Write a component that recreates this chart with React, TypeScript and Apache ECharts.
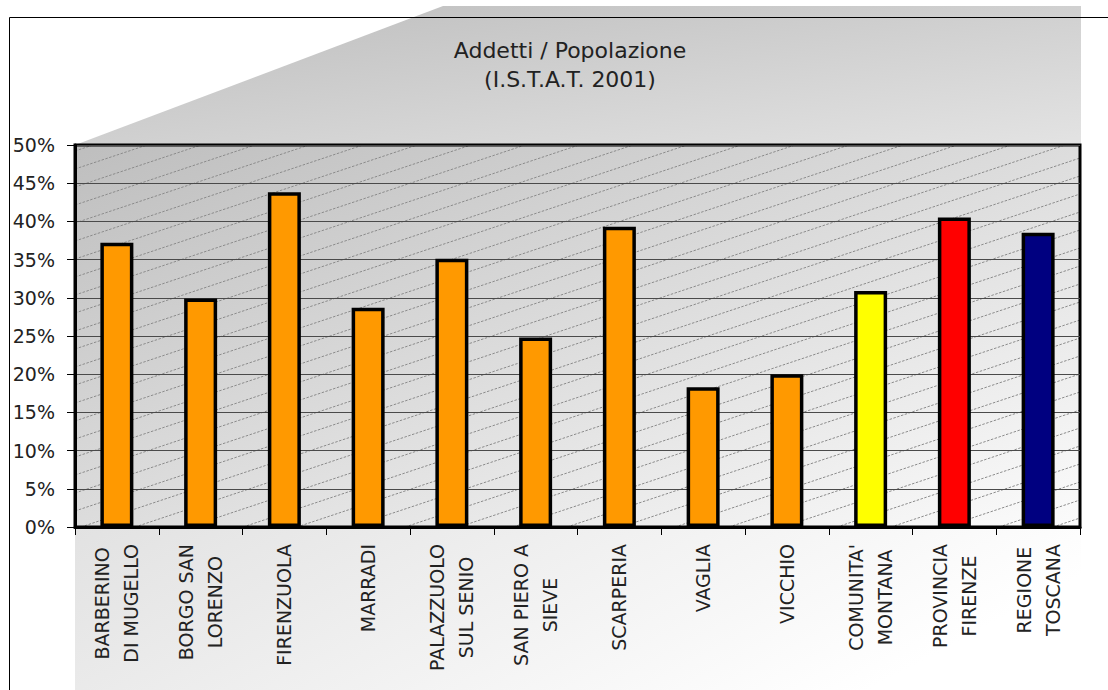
import React, { useEffect, useRef } from "react";
import * as echarts from "echarts";

// Share of workers over resident population, by municipality (ISTAT 2001)
const categories = [
  "BARBERINO\nDI MUGELLO",
  "BORGO SAN\nLORENZO",
  "FIRENZUOLA",
  "MARRADI",
  "PALAZZUOLO\nSUL SENIO",
  "SAN PIERO A\nSIEVE",
  "SCARPERIA",
  "VAGLIA",
  "VICCHIO",
  "COMUNITA'\nMONTANA",
  "PROVINCIA\nFIRENZE",
  "REGIONE\nTOSCANA",
];
const ratios = [0.372, 0.299, 0.438, 0.287, 0.351, 0.248, 0.393, 0.183, 0.2, 0.309, 0.405, 0.385];
const barColors = [
  "#FF9900", "#FF9900", "#FF9900", "#FF9900", "#FF9900", "#FF9900",
  "#FF9900", "#FF9900", "#FF9900", "#FFFF00", "#FF0000", "#000080",
];
const titleLines = ["Addetti / Popolazione", "(I.S.T.A.T. 2001)"];

const W = 1108;
const H = 690;
const PLOT = { left: 75, top: 145, right: 1080, bottom: 527 };
const FONT = "DejaVu Sans";

function hatchLines(): any[] {
  const { left: L, top: T, right: R, bottom: B } = PLOT;
  const k = 1 / 3;
  const step = 18;
  const out: any[] = [];
  for (let b = T + 6; b < B + k * (R - L); b += step) {
    const xs = Math.max(L, L + (b - B) / k);
    const xe = Math.min(R, L + (b - T) / k);
    if (xe <= xs) continue;
    out.push({
      type: "line",
      silent: true,
      z: -8,
      shape: { x1: xs, y1: b - k * (xs - L), x2: xe, y2: b - k * (xe - L) },
      style: { stroke: "#8c8c8c", lineWidth: 1, lineDash: [2.5, 1.5] },
    });
  }
  return out;
}

export default function App() {
  const ref = useRef<HTMLDivElement>(null);

  useEffect(() => {
    if (!ref.current) return;
    const chart = echarts.init(ref.current, undefined, { renderer: "svg" });
    const { left: L, top: T, right: R, bottom: B } = PLOT;

    const graphic: any[] = [
      {
        type: "polygon",
        silent: true,
        z: -10,
        shape: { points: [[L, T], [443, 6], [R + 1, 6], [R + 1, T]] },
        style: {
          fill: new echarts.graphic.LinearGradient(0, 0, 1, 1, [
            { offset: 0, color: "#bdbdbd" },
            { offset: 1, color: "#e3e3e3" },
          ]),
        },
      },
      {
        type: "rect",
        silent: true,
        z: -10,
        shape: { x: L, y: B, width: R + 1 - L, height: H - B },
        style: {
          fill: new echarts.graphic.LinearGradient(0, 0, 1, 0.3, [
            { offset: 0, color: "#e2e2e2" },
            { offset: 1, color: "#ffffff" },
          ]),
        },
      },
      {
        type: "rect",
        silent: true,
        z: -9,
        shape: { x: L, y: T, width: R - L, height: B - T },
        style: {
          fill: new echarts.graphic.LinearGradient(0, 0, 1, 1, [
            { offset: 0, color: "#bebebe" },
            { offset: 1, color: "#fbfbfb" },
          ]),
        },
      },
      ...hatchLines(),
      {
        type: "line",
        silent: true,
        z: 100,
        shape: { x1: 9.5, y1: 17.5, x2: W, y2: 17.5 },
        style: { stroke: "#000", lineWidth: 1 },
      },
      {
        type: "line",
        silent: true,
        z: 100,
        shape: { x1: 9.5, y1: 17.5, x2: 9.5, y2: H },
        style: { stroke: "#000", lineWidth: 1 },
      },
    ];

    chart.setOption({
      animation: false,
      backgroundColor: "#ffffff",
      title: {
        text: titleLines.join("\n"),
        left: 565,
        top: 31,
        textAlign: "center",
        textStyle: {
          fontFamily: FONT,
          fontSize: 22,
          fontWeight: "normal",
          color: "#222",
          lineHeight: 29,
        },
      },
      graphic,
      grid: {
        left: L,
        top: T,
        right: W - R,
        bottom: H - B,
        show: true,
        backgroundColor: "transparent",
        borderColor: "#000",
        borderWidth: 3,
      },
      xAxis: {
        type: "category",
        data: categories,
        axisLine: { lineStyle: { color: "#000", width: 3 } },
        axisTick: { show: true, length: 8, lineStyle: { color: "#000", width: 1 } },
        axisLabel: {
          interval: 0,
          rotate: 90,
          margin: 17,
          formatter: (v: string) =>
            v
              .split("\n")
              .map((s) => `{c|${s}}`)
              .join("\n"),
          rich: {
            c: {
              align: "center",
              fontFamily: FONT,
              fontSize: 19,
              color: "#222",
              lineHeight: 29,
            },
          },
        },
      },
      yAxis: {
        type: "value",
        min: 0,
        max: 0.5,
        interval: 0.05,
        axisLine: { show: true, lineStyle: { color: "#000", width: 3 } },
        axisTick: { show: true, length: 8, lineStyle: { color: "#000", width: 1 } },
        splitLine: { show: true, lineStyle: { color: "#4a4a4a", width: 1 } },
        axisLabel: {
          margin: 20,
          fontFamily: FONT,
          fontSize: 19,
          color: "#222",
          formatter: (v: number) => `${Math.round(v * 100)}%`,
        },
      },
      series: [
        {
          type: "bar",
          barWidth: 33,
          z: 5,
          data: ratios.map((v, i) => ({
            value: v,
            itemStyle: { color: barColors[i] },
          })),
          itemStyle: { borderColor: "#000", borderWidth: 3.5 },
        },
      ],
    });

    return () => chart.dispose();
  }, []);

  return (
    <div
      ref={ref}
      style={{ position: "absolute", left: 0, top: 0, width: W, height: H }}
    />
  );
}
